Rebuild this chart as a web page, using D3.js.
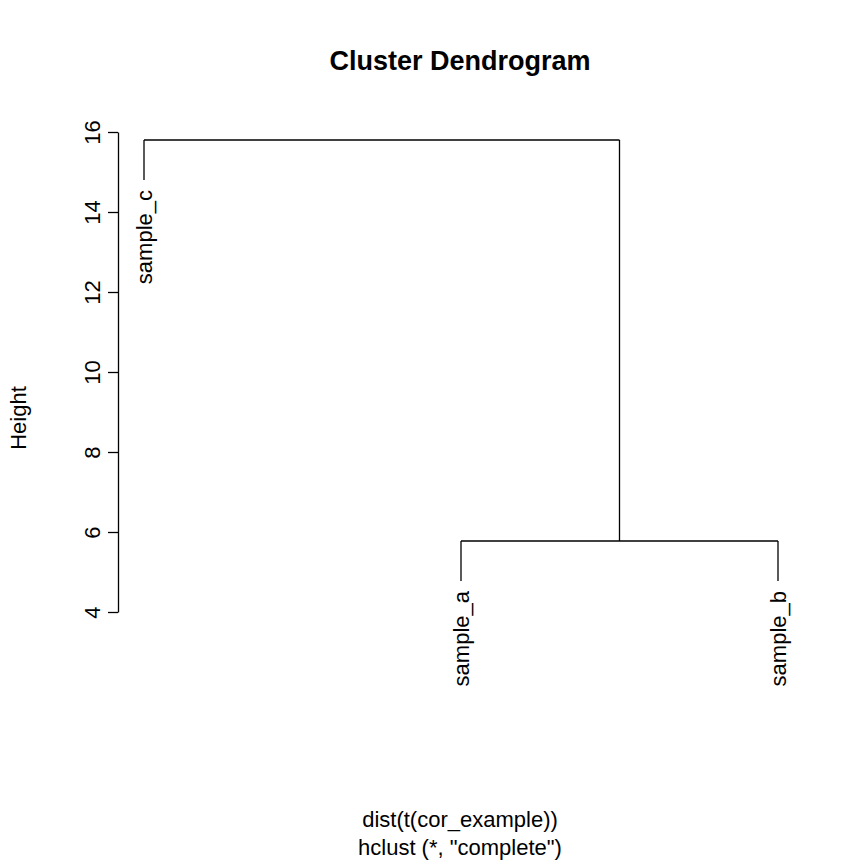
<!DOCTYPE html><html><head><script src="https://cdn.jsdelivr.net/npm/d3@7"></script>
<style>body{margin:0;background:#fff}text{font-family:"Liberation Sans",Arial,sans-serif;fill:#000}</style></head><body>
<script>
const leaves=["sample_c","sample_a","sample_b"];
const leafPos=[1,2,3];
const mergeHeights=[5.775,15.8]; // (a,b) then (c,(a,b))
const hang=1.0;
const yTicks=[4,6,8,10,12,14,16];
const W=864,H=864;
const svg=d3.select("body").append("svg").attr("width",W).attr("height",H);
const x=d3.scaleLinear().domain([1,3]).range([144,778]);
const y=d3.scaleLinear().domain([4,16]).range([612,132]);
const g=svg.append("g").attr("fill","none").attr("stroke","#000").attr("stroke-width",1.3);
function seg(x1,y1,x2,y2){g.append("line").attr("x1",x1).attr("y1",y1).attr("x2",x2).attr("y2",y2);}
// merge 1: a(2), b(3)
const h1=mergeHeights[0],h2=mergeHeights[1];
seg(x(2),y(h1-hang),x(2),y(h1));seg(x(3),y(h1-hang),x(3),y(h1));seg(x(2),y(h1),x(3),y(h1));
const mid=(2+3)/2;
seg(x(1),y(h2-hang),x(1),y(h2));seg(x(mid),y(h1),x(mid),y(h2));seg(x(1),y(h2),x(mid),y(h2));
// leaf labels
const leafH=[h2-hang,h1-hang,h1-hang];
leaves.forEach((l,i)=>{svg.append("text").attr("transform",`translate(${x(leafPos[i])+8},${y(leafH[i])+10}) rotate(-90)`)
 .attr("text-anchor","end").attr("font-size",22).text(l);});
// axis
const ax=svg.append("g").attr("transform","translate(118,0)").call(d3.axisLeft(y).tickValues(yTicks).tickSize(10).tickSizeOuter(0));
ax.select(".domain").attr("stroke-width",1.3);ax.selectAll("line").attr("stroke-width",1.3);
ax.selectAll("text").attr("font-size",22).attr("font-family","Liberation Sans, Arial, sans-serif")
 .attr("transform",function(d){return `rotate(-90) translate(${-y(d)*0},0)`;});
ax.selectAll(".tick text").each(function(d){d3.select(this).attr("x",null).attr("dy",null).attr("text-anchor","middle").attr("transform",`translate(-26,0) rotate(-90)`).attr("y",0).attr("dy","0.35em");});
svg.append("text").attr("x",460).attr("y",70).attr("text-anchor","middle").attr("font-size",27).attr("font-weight","bold").text("Cluster Dendrogram");
svg.append("text").attr("transform","translate(26,418) rotate(-90)").attr("text-anchor","middle").attr("font-size",22).text("Height");
svg.append("text").attr("x",460).attr("y",827).attr("text-anchor","middle").attr("font-size",22).text("dist(t(cor_example))");
svg.append("text").attr("x",460).attr("y",855).attr("text-anchor","middle").attr("font-size",22).text('hclust (*, "complete")');
</script></body></html>
